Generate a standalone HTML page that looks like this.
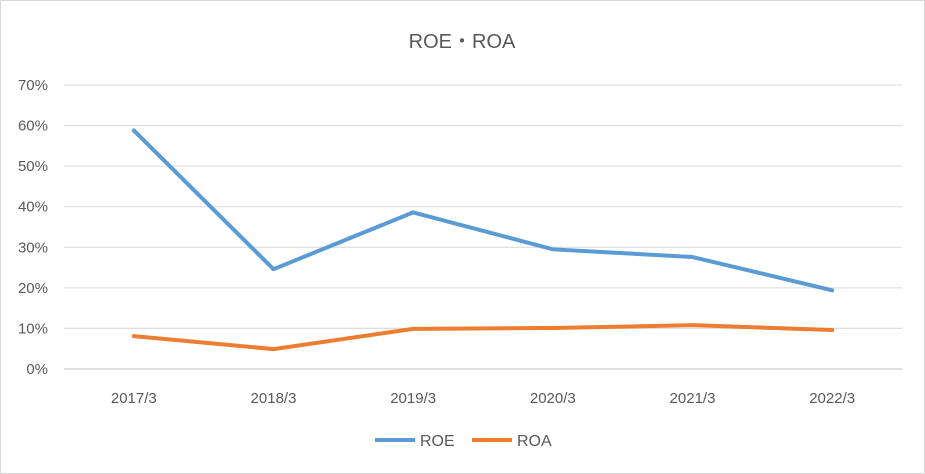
<!DOCTYPE html>
<html><head><meta charset="utf-8"><style>
body{margin:0;background:#fff;}
svg{display:block;font-family:"Liberation Sans","Noto Sans CJK JP",sans-serif;}
</style></head><body>
<svg id="chart" width="925" height="474">
<rect x="0.5" y="0.5" width="924" height="473" fill="#fff" stroke="#d9d9d9"/>
<text x="462" y="48" text-anchor="middle" font-size="20" fill="#595959">ROE・ROA</text>
<g id="grid"></g><g id="xlabels"></g><g id="series"></g>
<g>
<line x1="375" y1="440" x2="415" y2="440" stroke="#5B9BD5" stroke-width="4"/>
<text x="420" y="446" font-size="16" fill="#595959">ROE</text>
<line x1="472" y1="440" x2="512" y2="440" stroke="#ED7D31" stroke-width="4"/>
<text x="517" y="446" font-size="16" fill="#595959">ROA</text>
</g>
</svg>
<script>
const categories=["2017/3","2018/3","2019/3","2020/3","2021/3","2022/3"];
const roe=[58.8,24.6,38.6,29.5,27.6,19.4];
const roa=[8.1,4.9,9.9,10.1,10.8,9.6];
const yTicks=[0,10,20,30,40,50,60,70];
const NS="http://www.w3.org/2000/svg";
const x0=64,x1=902,yBase=369,yTop=85,yMax=70;
const step=(x1-x0)/categories.length;
function xs(i){return x0+step*(i+0.5);}
function ys(v){return yBase-(v/yMax)*(yBase-yTop);}
const grid=document.getElementById('grid');
yTicks.forEach(t=>{
 const l=document.createElementNS(NS,'line');
 l.setAttribute('x1',x0);l.setAttribute('x2',x1);l.setAttribute('y1',ys(t));l.setAttribute('y2',ys(t));
 l.setAttribute('stroke',t===0?'#bfbfbf':'#d9d9d9');
 
 
 grid.appendChild(l);
 const tx=document.createElementNS(NS,'text');
 tx.setAttribute('x',48);tx.setAttribute('y',ys(t)+5);tx.setAttribute('text-anchor','end');
 tx.setAttribute('font-size','15');tx.setAttribute('fill','#595959');tx.textContent=t+'%';
 
 
 grid.appendChild(tx);
});
const xl=document.getElementById('xlabels');
categories.forEach((c,i)=>{
 const tx=document.createElementNS(NS,'text');
 tx.setAttribute('x',xs(i));tx.setAttribute('y',403);tx.setAttribute('text-anchor','middle');
 tx.setAttribute('font-size','15');tx.setAttribute('fill','#595959');tx.textContent=c;
 
 
 xl.appendChild(tx);
});
const sg=document.getElementById('series');
[[roe,'#5B9BD5','roe-line'],[roa,'#ED7D31','roa-line']].forEach(([d,col,name])=>{
 const p=document.createElementNS(NS,'polyline');
 p.setAttribute('points',d.map((v,i)=>xs(i)+','+ys(v)).join(' '));
 p.setAttribute('fill','none');p.setAttribute('stroke',col);p.setAttribute('stroke-width','4');
 p.setAttribute('stroke-linejoin','round');p.setAttribute('stroke-linecap','round');
 
 
 sg.appendChild(p);
});
</script>
</body></html>
